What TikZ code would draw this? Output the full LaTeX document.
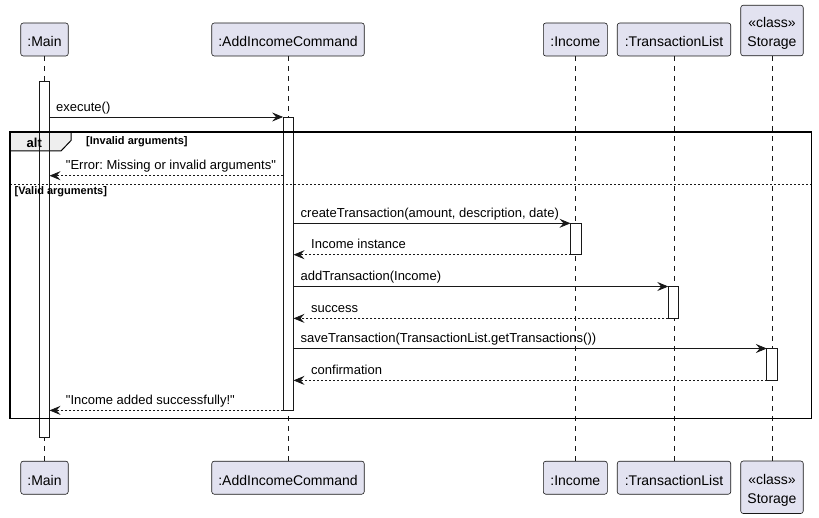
\documentclass[tikz,border=0pt]{standalone}
\usepackage{fontspec}
\setmainfont{Liberation Sans}[Ligatures=TeXOff]
\usetikzlibrary{arrows.meta}
\definecolor{partfill}{HTML}{E2E2F0}
\definecolor{ink}{HTML}{181818}
\definecolor{tabfill}{HTML}{EEEEEE}
\newcommand{\stlabel}{\raisebox{-2.8pt}[\height][\depth]{\begin{tabular}{@{}c@{}}«class»\\Storage\end{tabular}}}
\tikzset{
  partbase/.style={draw=ink, fill=partfill, rounded corners=2.5pt, line width=0.6pt, inner sep=0pt, font=\fontsize{14}{19}\selectfont, align=center},
  part/.style={partbase, text height=14.8pt, text depth=0pt},
  life/.style={draw=ink, line width=0.6pt, dash pattern=on 5pt off 5pt},
  actfill/.style={draw=none, fill=white, minimum width=10pt, inner sep=0pt},
  actline/.style={draw=ink, line width=0.7pt},
  msg/.style={draw=ink, line width=0.7pt, -{Stealth[length=11pt,width=9pt,inset=4pt]}},
  ret/.style={msg, dash pattern=on 2pt off 2pt},
  lbl/.style={font=\frenchspacing\fontsize{13}{15}\selectfont, anchor=base west, inner sep=0pt, text=black},
  guard/.style={font=\frenchspacing\bfseries\fontsize{11}{13}\selectfont, anchor=base west, inner sep=0pt},
  framebox/.style={draw=black, line width=1.5pt, inner sep=0pt},
}
\begin{document}
\frenchspacing
\begin{tikzpicture}[x=1pt,y=-1pt]
\useasboundingbox (0,0) rectangle (819,518);
% participants top
\node[part, minimum width=47.5pt, minimum height=33pt] (mainT) at (44.5,39.5) {:Main};
\node[part, minimum width=152.5pt, minimum height=33pt] (cmdT) at (288,39.5) {:AddIncomeCommand};
\node[part, minimum width=64pt, minimum height=33pt] (incT) at (575.3,39.5) {:Income};
\node[part, minimum width=113.5pt, minimum height=33pt] (tlT) at (674,39.5) {:TransactionList};
\node[partbase, minimum width=62.5pt, minimum height=50.5pt] (stT) at (772,30.55) {\stlabel};
% participants bottom
\node[part, minimum width=47.5pt, minimum height=33pt] (mainB) at (44.5,477.7) {:Main};
\node[part, minimum width=152.5pt, minimum height=33pt] (cmdB) at (288,477.7) {:AddIncomeCommand};
\node[part, minimum width=64pt, minimum height=33pt] (incB) at (575.3,477.7) {:Income};
\node[part, minimum width=113.5pt, minimum height=33pt] (tlB) at (674,477.7) {:TransactionList};
\node[partbase, minimum width=62.5pt, minimum height=52.5pt] (stB) at (772,487.25) {\stlabel};
% lifelines
\draw[life] (mainT) -- (mainB);
\draw[life] (cmdT) -- (cmdB);
\draw[life] (incT) -- (incB);
\draw[life] (tlT) -- (tlB);
\draw[life] (stT) -- (stB);
% activation fills
\node[actfill, minimum height=356.3pt, anchor=north] (mainA) at (44.3,81) {};
\node[actfill, minimum height=293pt, anchor=north] (cmdA) at (288.3,117) {};
\node[actfill, minimum height=31pt, anchor=north] (incA) at (575.7,223.3) {};
\node[actfill, minimum height=31.5pt, anchor=north] (tlA) at (673.5,286.5) {};
\node[actfill, minimum height=31.5pt, anchor=north] (stA) at (772,348.5) {};
% alt frame
\node[draw=none, minimum width=801pt, minimum height=286pt, anchor=north west, inner sep=0pt] (alt) at (10,132) {};
\draw[black, line width=1pt, fill=tabfill] (alt.north west) -- ++(61,0) -- ++(0,8.5) -- ++(-10,10.5) -- (alt.north west |- 0,151) -- cycle;
\coordinate (sepL) at (10,184.3);
\coordinate (sepR) at (811,184.3);
\draw[ink, line width=0.7pt, dash pattern=on 2pt off 2pt] (sepL) -- (sepR);
% activation outlines
\draw[actline] (mainA.north west) rectangle (mainA.south east);
\draw[actline] (cmdA.north west) rectangle (cmdA.south east);
\draw[actline] (incA.north west) rectangle (incA.south east);
\draw[actline] (tlA.north west) rectangle (tlA.south east);
\draw[actline] (stA.north west) rectangle (stA.south east);
\draw[framebox] (alt.north west) rectangle (alt.south east);
\node[font=\bfseries\fontsize{13}{15}\selectfont, anchor=base west, inner sep=0pt] (altlbl) at (26.5,148) {alt};
\node[guard] (g1) at (86,145) {[Invalid arguments]};
\node[guard] (g2) at (14.5,195) {[Valid arguments]};
% messages
\draw[msg] (mainA.east |- cmdA.north west) -- (cmdA.north west);
\node[lbl] (l1) at (56,111.8) {execute()};
\coordinate (errY) at (0,175.7);
\draw[ret] (cmdA.west |- errY) -- (mainA.east |- errY);
\node[lbl] (l2) at (65.7,169.8) {"Error: Missing or invalid arguments"};
\draw[msg] (cmdA.east |- incA.north west) -- (incA.north west);
\node[lbl] (l3) at (300.5,217.8) {createTransaction(amount, description, date)};
\draw[ret] (incA.south west) -- (cmdA.east |- incA.south west);
\node[lbl] (l4) at (311,248.8) {Income instance};
\draw[msg] (cmdA.east |- tlA.north west) -- (tlA.north west);
\node[lbl] (l5) at (300.5,281) {addTransaction(Income)};
\draw[ret] (tlA.south west) -- (cmdA.east |- tlA.south west);
\node[lbl] (l6) at (311,312.3) {success};
\draw[msg] (cmdA.east |- stA.north west) -- (stA.north west);
\node[lbl] (l7) at (300.5,343) {saveTransaction(TransactionList.getTransactions())};
\draw[ret] (stA.south west) -- (cmdA.east |- stA.south west);
\node[lbl] (l8) at (311,374.3) {confirmation};
\draw[ret] (cmdA.south west) -- (mainA.east |- cmdA.south west);
\node[lbl] (l9) at (65.7,404.3) {"Income added successfully!"};
\end{tikzpicture}
\end{document}
